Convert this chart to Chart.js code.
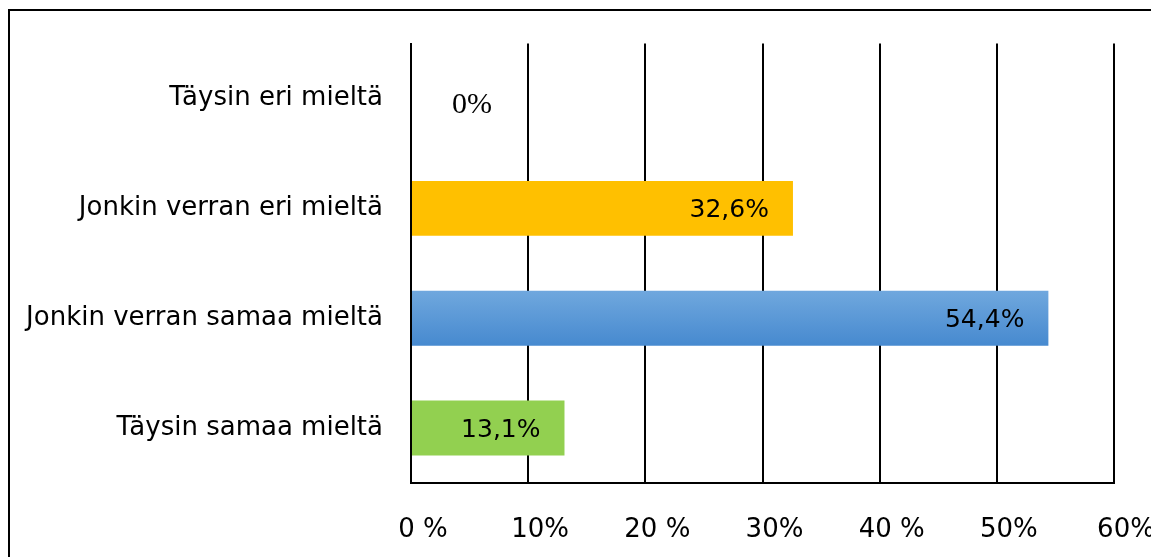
<!DOCTYPE html>
<html>
<head>
<meta charset="utf-8">
<script src="https://cdn.jsdelivr.net/npm/chart.js@4/dist/chart.umd.min.js"></script>
<style>
  html, body { margin: 0; padding: 0; background: #fff; }
  #wrap { width: 1151px; height: 557px; }
</style>
</head>
<body>
<div id="wrap"><canvas id="answersChart"></canvas></div>
<script>
let categories = ['Täysin eri mieltä', 'Jonkin verran eri mieltä', 'Jonkin verran samaa mieltä', 'Täysin samaa mieltä'];
let shares = [0, 32.6, 54.4, 13.1];
let valueLabels = ['0%', '32,6%', '54,4%', '13,1%'];
let tickLabels = ['0 %', '10%', '20 %', '30%', '40 %', '50%', '60%'];

let ctx = document.getElementById('answersChart').getContext('2d');
let textFont = '"DejaVu Sans"';

// blue bar has a light vertical gradient
function barColor(context) {
    let i = context.dataIndex;
    if (i === 2) {
        let yScale = context.chart.scales.y;
        let mid = yScale ? yScale.getPixelForValue(i) : NaN;
        if (!isFinite(mid)) return '#5b9bd5';
        let g = context.chart.ctx.createLinearGradient(0, mid - 28, 0, mid + 28);
        g.addColorStop(0, '#70a8de');
        g.addColorStop(1, '#4689cf');
        return g;
    }
    return ['#ffffff', '#ffc000', '#5b9bd5', '#92d050'][i];
}

let frame = {
    id: 'frame',
    beforeDraw(chart) {
        let c = chart.ctx;
        c.save();
        c.strokeStyle = '#000';
        c.lineWidth = 2;
        c.strokeRect(9, 10, 1300, 700);
        c.restore();
    }
};

let valueText = {
    id: 'valueText',
    afterDatasetsDraw(chart) {
        let c = chart.ctx;
        let meta = chart.getDatasetMeta(0);
        c.save();
        c.fillStyle = '#000';
        c.textBaseline = 'middle';
        meta.data.forEach((bar, i) => {
            if (shares[i] === 0) {
                c.font = '30px "Liberation Serif"';
                c.textAlign = 'center';
                c.fillText(valueLabels[i], bar.base + 61, bar.y + 7);
            } else {
                c.font = '25px ' + textFont;
                c.textAlign = 'right';
                c.fillText(valueLabels[i], bar.x - 24, bar.y + 2);
            }
        });
        c.restore();
    }
};

new Chart(ctx, {
    type: 'bar',
    data: {
        labels: categories,
        datasets: [{
            data: shares,
            backgroundColor: barColor,
            borderWidth: 0,
            categoryPercentage: 1,
            barPercentage: 0.5
        }]
    },
    options: {
        indexAxis: 'y',
        responsive: true,
        maintainAspectRatio: false,
        animation: false,
        layout: { padding: { top: 40, right: 37, left: 0, bottom: 0 } },
        plugins: {
            legend: { display: false },
            tooltip: { enabled: false }
        },
        scales: {
            x: {
                min: 0,
                max: 60,
                ticks: {
                    stepSize: 10,
                    padding: 32,
                    labelOffset: 12,
                    color: '#000',
                    font: { family: textFont, size: 26 },
                    callback: (v, i) => tickLabels[i]
                },
                grid: { color: '#000', lineWidth: 2, drawTicks: false },
                border: { color: '#000', width: 2 },
                afterFit(axis) {
                    axis.height = 74;
                    axis.paddingLeft = 0;
                    axis.paddingRight = 0;
                }
            },
            y: {
                ticks: {
                    padding: 28,
                    color: '#000',
                    font: { family: textFont, size: 26 }
                },
                grid: { display: false, drawTicks: false },
                border: { color: '#000', width: 2 },
                afterFit(axis) { axis.width = 411; }
            }
        }
    },
    plugins: [frame, valueText]
});
</script>
</body>
</html>
